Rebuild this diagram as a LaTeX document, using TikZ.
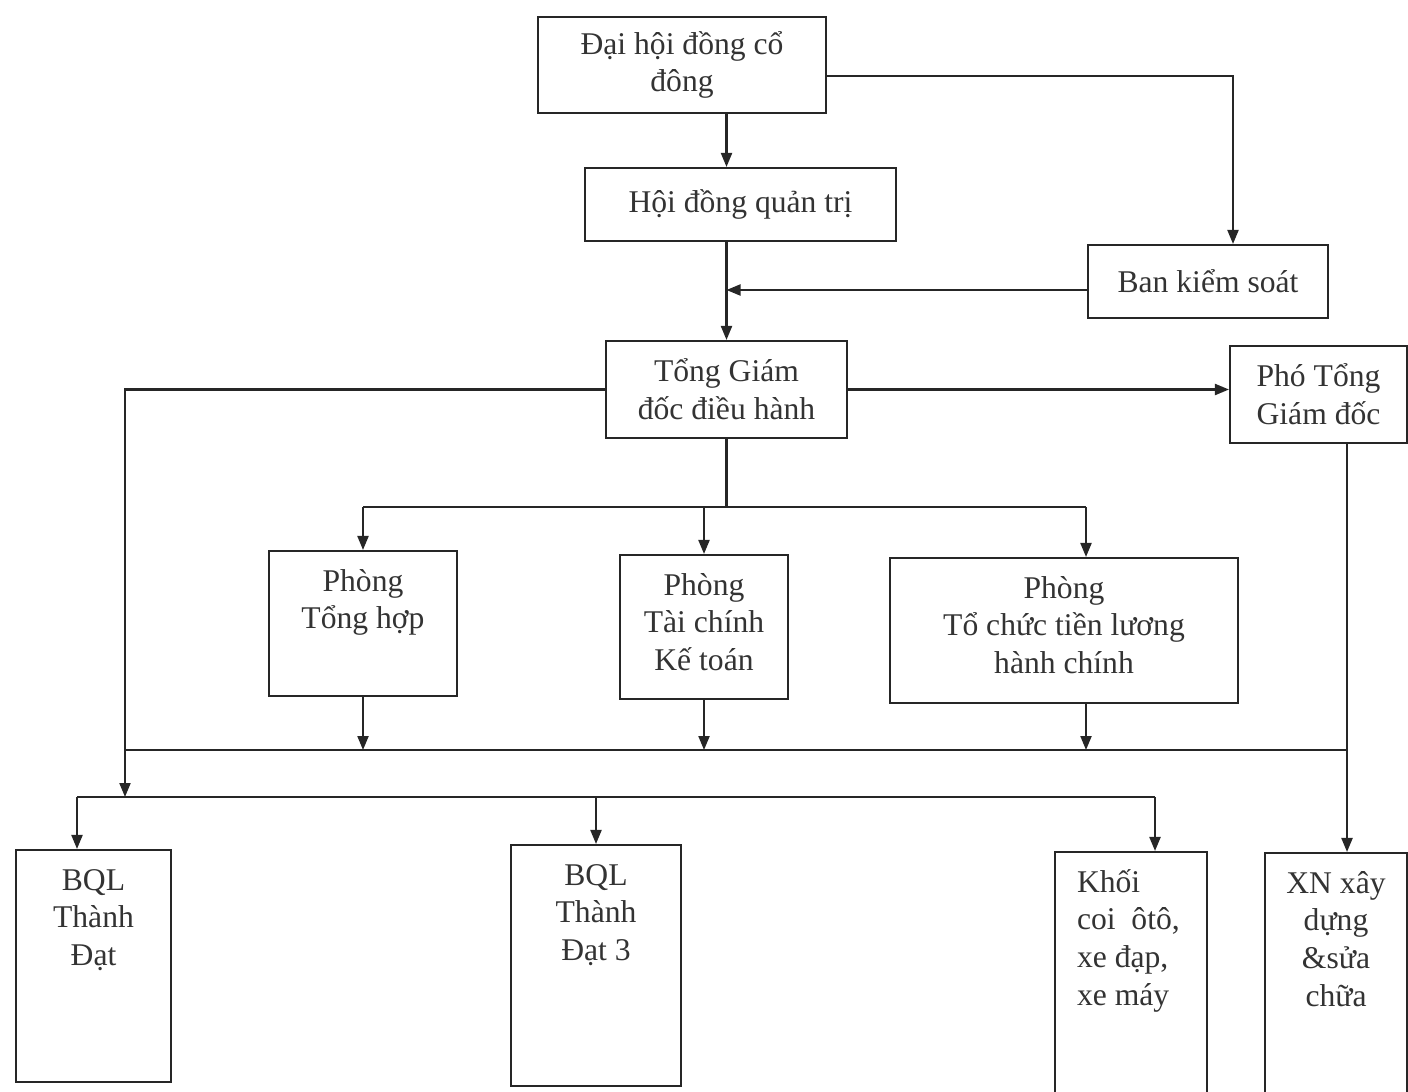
\documentclass[tikz,border=0pt]{standalone}
\usepackage{fontspec}
\setmainfont{Liberation Serif}
\usetikzlibrary{arrows.meta}
\newcommand{\toptext}[4]{\parbox[c][#2][t]{#1}{#3\rule{0pt}{0.8cm}#4}}

\begin{document}
\begin{tikzpicture}[x=0.02cm, y=-0.02cm,
		unitbox/.style={draw=black!85, line width=1.2pt, inner sep=0pt, align=center, text=black!80, font=\fontsize{18}{21.5}\selectfont},
		wire/.style={draw=black!85, line width=1.2pt},
		link/.style={wire, -{Triangle[length=0.28cm,width=0.22cm]}}]
			%%%%% START %%%%%
			\useasboundingbox (0, 0) rectangle (1408, 1091);
			
			\node[unitbox, minimum width=5.76cm, minimum height=1.92cm] (dhcd) at (682, 65) {Đại hội đồng cổ\\đông};
			\node[unitbox, minimum width=6.22cm, minimum height=1.46cm] (hdqt) at (740.5, 204.5) {Hội đồng quản trị};
			\node[unitbox, minimum width=4.8cm, minimum height=1.46cm] (bks) at (1208, 281.5) {Ban kiểm soát};
			\node[unitbox, minimum width=4.82cm, minimum height=1.94cm] (tgd) at (726.5, 389.5) {Tổng Giám\\đốc điều hành};
			\node[unitbox, minimum width=3.54cm, minimum height=1.94cm] (ptgd) at (1318.5, 394.5) {Phó Tổng\\Giám đốc};
			
			\node[unitbox] (pth) at (363, 623.5) {\toptext{3.76cm}{2.9cm}{\centering}{Phòng\\Tổng hợp}};
			\node[unitbox] (tckt) at (704, 627) {\toptext{3.36cm}{2.88cm}{\centering}{Phòng\\Tài chính\\Kế toán}};
			\node[unitbox] (tctl) at (1064, 630.5) {\toptext{6.96cm}{2.9cm}{\centering}{Phòng\\Tổ chức tiền lương\\hành chính}};
			
			\node[unitbox] (bqla) at (93.5, 966) {\toptext{3.1cm}{4.64cm}{\centering}{BQL\\Thành\\Đạt}};
			\node[unitbox] (bqlb) at (596, 965.5) {\toptext{3.4cm}{4.82cm}{\centering}{BQL\\Thành\\Đạt 3}};
			\node[unitbox] (khoi) at (1131, 976) {\toptext{3.04cm}{4.96cm}{\raggedright\leftskip=0.44cm }{Khối\\coi\ \ ôtô,\\xe đạp,\\xe máy}};
			\node[unitbox] (xn) at (1336, 976.5) {\toptext{2.84cm}{4.94cm}{\centering}{XN xây\\dựng\\\&sửa\\chữa}};
			
			\coordinate (busA) at (0, 507);
			\coordinate (busB) at (0, 750);
			\coordinate (busC) at (0, 797);
			\coordinate (leftx) at (125, 0);
			\coordinate (rightx) at (1347, 0);
			\coordinate (dhcdout) at ([yshift=-0.22cm]dhcd.east);
			\coordinate (bksin) at ([xshift=0.5cm]bks.north);
			\coordinate (bksout) at ([yshift=-0.17cm]bks.west);
			\coordinate (tctlin) at ([xshift=0.44cm]tctl.north);
			\coordinate (bqlain) at ([xshift=-0.33cm]bqla.north);
			\coordinate (khoiin) at ([xshift=0.48cm]khoi.north);
			
			\draw[link] (dhcd.south -| tgd.north) -- (hdqt.north -| tgd.north);
			\draw[link] (dhcdout) -| (bksin);
			\draw[link] (hdqt.south -| tgd.north) -- (tgd.north);
			\draw[link] (bksout) -- (bksout -| tgd.north);
			\draw[link] (tgd.east) -- (tgd.east -| ptgd.west);
			\draw[link] (tgd.west) -| (leftx |- busC);
			
			\draw[wire] (tgd.south) -- (tgd.south |- busA);
			\draw[wire] (pth.north |- busA) -- (tctlin |- busA);
			\draw[link] (pth.north |- busA) -- (pth.north);
			\draw[link] (tckt.north |- busA) -- (tckt.north);
			\draw[link] (tctlin |- busA) -- (tctlin);
			
			\draw[link] (pth.south) -- (pth.south |- busB);
			\draw[link] (tckt.south) -- (tckt.south |- busB);
			\draw[link] (tctlin |- tctl.south) -- (tctlin |- busB);
			\draw[wire] (leftx |- busB) -- (rightx |- busB);
			\draw[link] (ptgd.south -| rightx) -- (xn.north -| rightx);
			
			\draw[wire] (bqlain |- busC) -- (khoiin |- busC);
			\draw[link] (bqlain |- busC) -- (bqlain);
			\draw[link] (bqlb.north |- busC) -- (bqlb.north);
			\draw[link] (khoiin |- busC) -- (khoiin);
			
			%%%%% END %%%%%
\end{tikzpicture}
\end{document}
